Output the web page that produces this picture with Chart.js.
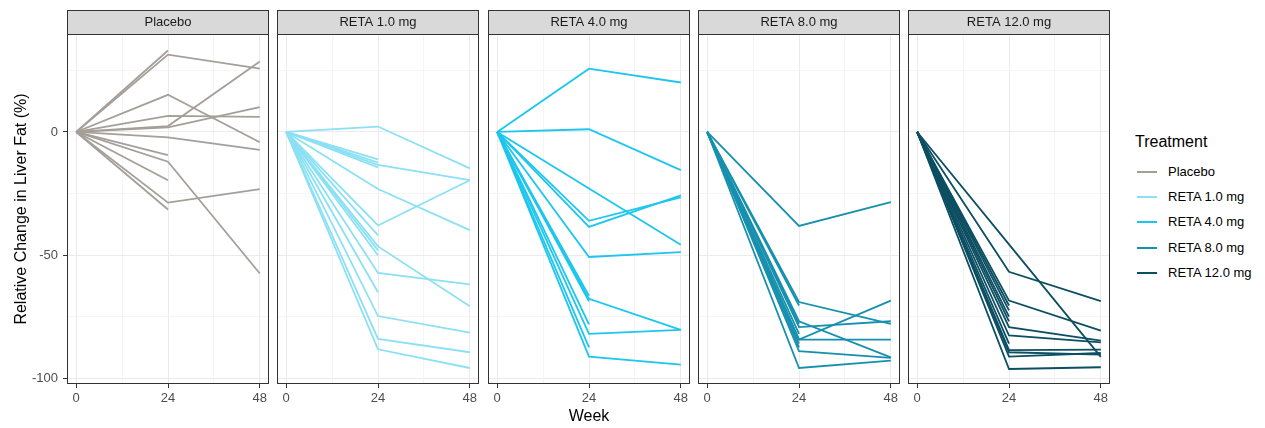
<!DOCTYPE html>
<html>
<head>
<meta charset="utf-8">
<script src="https://cdn.jsdelivr.net/npm/chart.js@4.4.1/dist/chart.umd.min.js"></script>
<style>
  body { margin: 0; background: #fff; font-family: "Liberation Sans", Arial, sans-serif; }
  #wrap { position: relative; width: 1265px; height: 428px; overflow: hidden; }
  .panel { position: absolute; top: 0; height: 428px; }
  #legend { position: absolute; left: 1135px; top: 0; width: 130px; height: 428px; }
  #legend .title { position: absolute; left: 0; top: 133px; font-size: 16px; color: #000; }
  #legend .row { position: absolute; left: 0; height: 25px; line-height: 25px; font-size: 13px; color: #000; white-space: nowrap; }
  #legend .key { position: absolute; left: 2px; top: 12px; width: 20px; height: 2px; }
  #legend .lab { position: absolute; left: 33px; top: 0; }
</style>
</head>
<body>
<div id="wrap">
  <div id="legend"><div class="title">Treatment</div></div>
</div>

<script>
/* ------------------------------
   DATA
--------------------------------*/

const weeks = [0, 24, 48];
const groups = ["Placebo", "RETA 1.0 mg", "RETA 4.0 mg", "RETA 8.0 mg", "RETA 12.0 mg"];
const colors = ["#A59F99", "#8BE0F4", "#1CC6EE", "#1790AE", "#0C4E62"];

// one row per participant: [week 0, week 24, week 48], null = no value
const placebo = [
    [0, 33.1, null], [0, 31.4, 25.7], [0, 15.1, -4.2], [0, 6.5, 6.1],
    [0, 2.4, 28.6], [0, 1.9, 10.1], [0, -2.2, -7.3], [0, -9.4, null],
    [0, -12.1, -57.5], [0, -19.6, null], [0, -28.7, -23.2], [0, -31.5, null]
];
const reta1 = [
    [0, 2.2, -14.8], [0, -11.1, null], [0, -12.4, null], [0, -13.4, -19.6],
    [0, -14.4, null], [0, -23.2, -39.9], [0, -38.0, -19.6], [0, -42.0, null],
    [0, -46.5, -70.8], [0, -48.1, null], [0, -50.1, null], [0, -57.3, -61.9],
    [0, -65.1, null], [0, -74.8, -81.5], [0, -84.1, -89.5], [0, -88.3, -95.9]
];
const reta4 = [
    [0, 25.7, 20.1], [0, 1.1, -15.5], [0, -23.0, -45.8], [0, -36.1, -26.6],
    [0, -38.6, -25.8], [0, -50.8, -48.8], [0, -67.8, -80.4], [0, -66.5, null],
    [0, -68.8, null], [0, -78.2, null], [0, -82.0, -80.4], [0, -87.5, null],
    [0, -91.3, -94.5]
];
const reta8 = [
    [0, -38.2, -28.5], [0, -69.1, -78.0], [0, -70.5, null], [0, -76.9, -91.6],
    [0, -78.0, null], [0, -79.3, -76.9], [0, -82.0, null], [0, -84.4, -68.5],
    [0, -84.4, -84.4], [0, -86.0, null], [0, -87.5, null], [0, -89.1, -91.8],
    [0, -95.9, -92.9]
];
const reta12 = [
    [0, -45.7, -91.4], [0, -56.8, -68.7], [0, -68.5, -80.7], [0, -70.5, null],
    [0, -72.5, null], [0, -75.0, null], [0, -77.0, null], [0, -79.3, -84.8],
    [0, -82.7, -85.5], [0, -86.0, null], [0, -88.6, -88.4], [0, -89.5, -90.5],
    [0, -91.3, -89.8], [0, -96.3, -95.6]
];
const series = [placebo, reta1, reta4, reta8, reta12];

const xTicks = [0, 12, 24, 36, 48];          // 12 and 36 are minor grid lines
const yTicks = [-100, -75, -50, -25, 0, 25]; // -75, -25, 25 are minor grid lines

/* ------------------------------
   LAYOUT
--------------------------------*/

const FONT = "Liberation Sans";
const panelLeft = [67, 277, 488, 698, 908];
const panelW = 202;
const areaTop = 34, areaBottom = 384, H = 428;

/* ------------------------------
   PLUGIN: strip + panel border
--------------------------------*/

const facetPlugin = {
    id: "facet",
    afterDraw(chart, args, opts) {
        const ctx = chart.ctx;
        const a = chart.chartArea;
        ctx.save();
        ctx.fillStyle = "#D9D9D9";
        ctx.fillRect(a.left, 10, a.right - a.left, areaTop - 10);
        ctx.strokeStyle = "#333333";
        ctx.lineWidth = 1;
        ctx.strokeRect(a.left + 0.5, 10.5, a.right - a.left - 1, areaTop - 10);
        ctx.strokeRect(a.left + 0.5, a.top + 0.5, a.right - a.left - 1, a.bottom - a.top - 1);
        ctx.fillStyle = "#1A1A1A";
        ctx.font = "13px '" + FONT + "'";
        ctx.textAlign = "center";
        ctx.textBaseline = "middle";
        ctx.fillText(opts.label, (a.left + a.right) / 2, 22.5);
        ctx.restore();
    }
};

function toPoints(row) {
    return row.map((v, i) => ({ x: weeks[i], y: v })).filter(p => p.y !== null);
}

const wrap = document.getElementById("wrap");

groups.forEach((name, i) => {
    const first = i === 0;
    const yAxisW = first ? panelLeft[0] : 1;
    const cw = yAxisW + panelW + 1;

    const canvas = document.createElement("canvas");
    canvas.className = "panel";
    canvas.style.left = (panelLeft[i] - yAxisW) + "px";
    canvas.style.width = cw + "px";
    canvas.width = cw;
    canvas.height = H;
    wrap.appendChild(canvas);

    new Chart(canvas, {
        type: "line",
        data: {
            datasets: series[i].map(row => ({
                data: toPoints(row),
                borderColor: colors[i],
                borderWidth: 1.8,
                pointRadius: 0,
                tension: 0,
                fill: false
            }))
        },
        options: {
            responsive: false,
            animation: false,
            events: [],
            layout: { padding: { top: areaTop, right: 1, left: 0, bottom: 0 } },
            plugins: {
                legend: { display: false },
                tooltip: { enabled: false },
                facet: { label: name }
            },
            scales: {
                x: {
                    type: "linear",
                    min: -2.4,
                    max: 50.4,
                    afterBuildTicks: s => { s.ticks = xTicks.map(v => ({ value: v })); },
                    afterFit: s => {
                        s.height = H - areaBottom;
                        s.paddingLeft = 0; s.paddingRight = 0;
                    },
                    border: { display: false },
                    grid: {
                        color: c => (c.tick && c.tick.value % 24 === 0) ? "#EBEBEB" : "#F3F3F3",
                        lineWidth: c => (c.tick && c.tick.value % 24 === 0) ? 1 : 0.8,
                        tickColor: c => (c.tick && c.tick.value % 24 === 0) ? "#333333" : "rgba(0,0,0,0)",
                        tickLength: 4,
                        tickWidth: 1
                    },
                    ticks: {
                        autoSkip: false,
                        maxRotation: 0,
                        padding: 3,
                        color: "#4D4D4D",
                        font: { family: FONT, size: 13 },
                        callback: v => (v % 24 === 0 ? String(v) : "")
                    },
                    title: {
                        display: i === 2,
                        text: "Week",
                        color: "#000",
                        font: { family: FONT, size: 16 },
                        padding: { top: 0, bottom: 2 }
                    }
                },
                y: {
                    min: -102.4,
                    max: 39.8,
                    afterBuildTicks: s => { s.ticks = yTicks.map(v => ({ value: v })); },
                    afterFit: s => {
                        s.width = yAxisW;
                        s.paddingTop = 0; s.paddingBottom = 0;
                    },
                    border: { display: false },
                    grid: {
                        color: c => (c.tick && c.tick.value % 50 === 0) ? "#EBEBEB" : "#F3F3F3",
                        lineWidth: c => (c.tick && c.tick.value % 50 === 0) ? 1 : 0.8,
                        tickColor: c => (c.tick && c.tick.value % 50 === 0) ? "#333333" : "rgba(0,0,0,0)",
                        drawTicks: first,
                        tickLength: 4,
                        tickWidth: 1
                    },
                    ticks: {
                        display: first,
                        autoSkip: false,
                        padding: 5,
                        color: "#4D4D4D",
                        font: { family: FONT, size: 13 },
                        callback: v => (v % 50 === 0 ? String(v) : "")
                    },
                    title: {
                        display: first,
                        text: "Relative Change in Liver Fat (%)",
                        color: "#000",
                        font: { family: FONT, size: 16 },
                        padding: { top: 12, bottom: 0 }
                    }
                }
            }
        },
        plugins: [facetPlugin]
    });
});

/* ------------------------------
   LEGEND
--------------------------------*/

const legend = document.getElementById("legend");
groups.forEach((name, i) => {
    const row = document.createElement("div");
    row.className = "row";
    row.style.top = (159 + i * 25.2) + "px";
    row.innerHTML = '<span class="key" style="background:' + colors[i] + '"></span><span class="lab">' + name + '</span>';
    legend.appendChild(row);
});
</script>
</body>
</html>
